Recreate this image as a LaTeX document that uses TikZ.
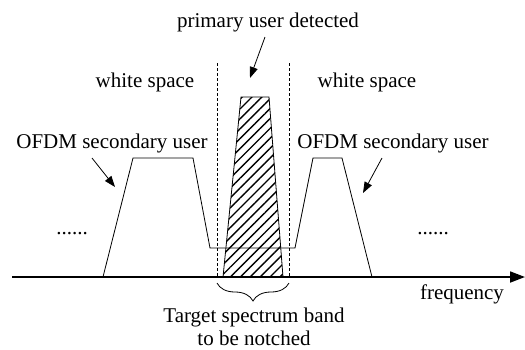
\documentclass[tikz,border=0pt]{standalone}
\usepackage{fontspec}
\setmainfont{Liberation Serif}
\usetikzlibrary{arrows.meta, patterns.meta, decorations.pathreplacing}

\begin{document}
\begin{tikzpicture}[x=1pt, y=-1pt,
    lbl/.style={font=\fontsize{21}{23}\selectfont, inner sep=0pt, anchor=base},
    pointer/.style={-{Triangle[length=11pt,width=8pt]}, line width=0.8pt},
    axis/.style={-{Triangle[length=15pt,width=11pt]}, line width=1.8pt},
    edge/.style={dash pattern=on 3pt off 2pt, line width=0.6pt},
    spec/.style={line width=0.8pt, line join=miter}
  ]
    \useasboundingbox (0,0) rectangle (525,349);

    % primary user band
    \path[pattern={Lines[angle=45, distance=7pt, line width=1.4pt]}] (223,277) -- (241,97) -- (269,97) -- (283,277) -- cycle;
    \draw[spec] (223,277) -- (241,97) -- (269,97) -- (283,277);

    % OFDM secondary users with the notch
    \draw[spec] (103,277) -- (133,158) -- (193,158) -- (210,248) -- (295,248)
      -- (313,158) -- (342,158) -- (372,277);

    \draw[edge] (217,63) -- (217,277);
    \draw[edge] (289,63) -- (289,277);

    \coordinate (ax0) at (12,277);
    \coordinate (ax1) at (525,277);
    \draw[axis] (ax0) -- (ax1);

    \node[lbl] (pu) at (268,27) {primary user detected};
    \node[lbl] (ws1) at (145,87) {white space};
    \node[lbl] (ws2) at (367,87) {white space};
    \node[lbl] (su1) at (112,148) {OFDM secondary user};
    \node[lbl] (su2) at (393,148) {OFDM secondary user};
    \node[lbl] (dots1) at (72,234) {......};
    \node[lbl] (dots2) at (433,234) {......};
    \node[lbl] (freq) at (462,299) {frequency};
    \node[lbl, align=center] (target) at (254,345) {Target spectrum band\\to be notched};

    \coordinate (pu-from) at (265,37);
    \coordinate (pu-to) at (250,78);
    \coordinate (su1-from) at (92,158);
    \coordinate (su1-to) at (115,187);
    \coordinate (su2-from) at (382,158);
    \coordinate (su2-to) at (363,193);
    \draw[pointer] (pu-from) -- (pu-to);
    \draw[pointer] (su1-from) -- (su1-to);
    \draw[pointer] (su2-from) -- (su2-to);

    \coordinate (br0) at (217,283);
    \coordinate (br1) at (289,283);
    \draw[line width=0.8pt, decorate, decoration={brace, mirror, amplitude=18pt}] (br0) -- (br1);
  \end{tikzpicture}
\end{document}
